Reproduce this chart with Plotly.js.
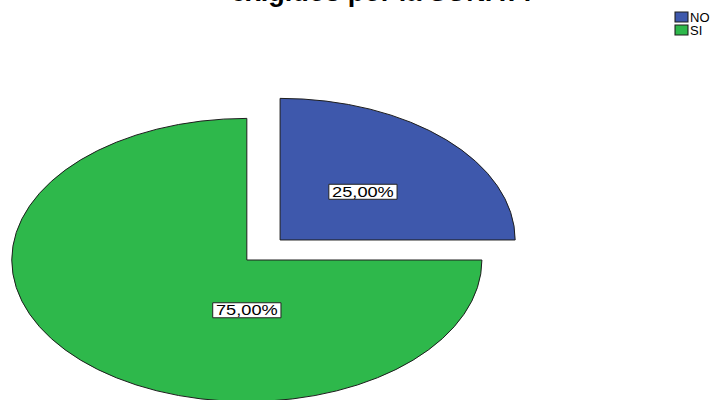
<!DOCTYPE html>
<html><head><meta charset="utf-8">
<script src="https://cdn.plot.ly/plotly-3.0.1.min.js"></script>
<style>html,body{margin:0;padding:0;overflow:hidden;background:#fff;width:724px;height:400px}</style>
</head><body>
<div id="chart" style="width:724px;height:480px"></div>
<script>
// ---- data ----
const categories = ['NO', 'SI'];
const percentages = [25, 75];
const sliceColors = ['#3e58ac', '#2eb84b'];
const pullValues = [0.2, 0];
const titleText = 'exigidos por la SUNAT?';

// ---- geometry / style ----
const W = 724, H = 480;
const STRETCH = 1.66;      // pie drawn as an ellipse (horizontal stretch)
const TEXT_STRETCH = 1.3;  // labels look horizontally widened
const CX = 251, CY = 260, R = 144;
const LABEL_POLAR = [[0.49, 44], [0.355, -90]]; // label placement: fraction of radius, angle (deg)
const maxPull = Math.max(...pullValues);
const half = R * (1 + maxPull);
const FONT = 'Liberation Sans, Arial, sans-serif';

const data = [{
  type: 'pie',
  labels: categories,
  values: percentages,
  sort: false,
  direction: 'clockwise',
  rotation: 0,
  pull: pullValues,
  marker: {colors: sliceColors, line: {color: '#1e1e1e', width: 1}},
  texttemplate: '%{percent:.2%}',
  textposition: 'inside',
  insidetextorientation: 'horizontal',
  insidetextfont: {family: FONT, size: 14, color: '#000'},
  hoverinfo: 'none',
  domain: {x: [(CX - half) / W, (CX + half) / W], y: [1 - (CY + half) / H, 1 - (CY - half) / H]}
}];

const layout = {
  width: W, height: H,
  margin: {l: 0, r: 0, t: 0, b: 0},
  paper_bgcolor: '#fff',
  separators: ',.',
  title: {
    text: titleText,
    font: {family: FONT, size: 27, color: '#000', weight: 'bold'},
    x: 390 / W, xanchor: 'center', xref: 'paper',
    yref: 'container', y: 1 - 1 / H, yanchor: 'bottom'
  },
  showlegend: true,
  legend: {
    x: 670 / W, xanchor: 'left', y: 1 - 6 / H, yanchor: 'top',
    font: {family: FONT, size: 13, color: '#000'},
    bgcolor: 'rgba(0,0,0,0)', traceorder: 'normal'
  }
};

const gd = document.getElementById('chart');
Plotly.newPlot(gd, data, layout, {staticPlot: true, displayModeBar: false}).then(() => {
  const cd = gd.calcdata[0];
  const cx0 = cd[0].cx, cy0 = cd[0].cy, r = cd[0].r;
  const NS = 'http://www.w3.org/2000/svg';
  gd.querySelectorAll('.pielayer path.surface').forEach(p => {
    p.setAttribute('transform', `translate(${cx0},0) scale(${STRETCH},1) translate(${-cx0},0)`);
    p.style.vectorEffect = 'non-scaling-stroke';
  });
  gd.querySelectorAll('.pielayer g.slice').forEach((s, i) => {
    const g = s.querySelector('g.slicetext');
    const t = g && g.querySelector('text');
    if (!t) return;
    const pt = cd[i];
    const pl = pullValues[i] || 0;
    const scx = pt.cxFinal !== undefined ? pt.cxFinal : cx0 + pl * pt.pxmid[0];
    const scy = pt.cyFinal !== undefined ? pt.cyFinal : cy0 + pl * pt.pxmid[1];
    const [fr, ang] = LABEL_POLAR[i];
    const lx = scx + fr * r * Math.cos(ang * Math.PI / 180);
    const ly = scy - fr * r * Math.sin(ang * Math.PI / 180);
    const targetX = cx0 + STRETCH * (lx - cx0);
    const b = t.getBoundingClientRect();
    const rect = document.createElementNS(NS, 'rect');
    rect.setAttribute('x', b.left - 2.5);
    rect.setAttribute('y', b.top + 0.5);
    rect.setAttribute('width', b.width + 5);
    rect.setAttribute('height', b.height - 1);
    rect.setAttribute('fill', '#fff');
    rect.setAttribute('stroke', '#222');
    rect.setAttribute('stroke-width', '1');
    rect.style.vectorEffect = 'non-scaling-stroke';
    g.insertBefore(rect, g.firstChild);
    const tx = b.left + b.width / 2, ty = b.top + b.height / 2;
    g.setAttribute('transform', `translate(${targetX},${ly}) scale(${TEXT_STRETCH},1) translate(${-tx},${-ty})`);
  });
  // legend: compact SPSS-like entries
  const LEG_SYM_X = 681.5, LEG_Y0 = 17, LEG_DY = 13, LEG_TEXT_X = 690;
  gd.querySelectorAll('.legend g.traces').forEach((it, i) => {
    const path = it.querySelector('.legendpoints path');
    const txt = it.querySelector('text.legendtext');
    if (!path) return;
    const pr = path.getBoundingClientRect();
    const dy = (LEG_Y0 + i * LEG_DY) - (pr.top + pr.height / 2);
    const m = /translate\(\s*([-\d.e]+)[ ,]+([-\d.e]+)\s*\)/.exec(it.getAttribute('transform') || '');
    const ix = m ? +m[1] : 0, iy = m ? +m[2] : 0;
    it.setAttribute('transform', `translate(${ix},${iy + dy})`);
    const pr2 = path.getBoundingClientRect();
    const dx = LEG_SYM_X - (pr2.left + pr2.width / 2);
    const T = path.getAttribute('transform') || '';
    path.setAttribute('transform', `translate(${dx},0) ${T} scale(1.08,0.83)`);
    if (txt) {
      const trr = txt.getBoundingClientRect();
      const x0 = +(txt.getAttribute('x') || 0);
      txt.setAttribute('x', x0 + (LEG_TEXT_X - trr.left));
    }
  });
});
</script>
</body></html>
